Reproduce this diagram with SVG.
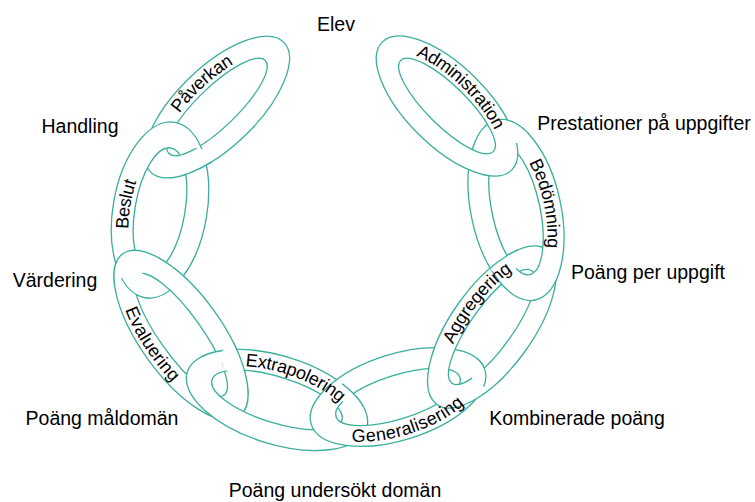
<svg xmlns="http://www.w3.org/2000/svg" width="755" height="502" viewBox="0 0 755 502">
<style>
.ring{fill:#fff;fill-rule:evenodd;stroke:#3aae9c;stroke-width:1.3}
.lbl{font-family:"Liberation Sans",Arial,sans-serif;font-size:18px;fill:#000;dominant-baseline:central;text-anchor:middle}
.out{font-family:"Liberation Sans",Arial,sans-serif;font-size:19.5px;fill:#000;text-anchor:middle}
</style>
<defs>
<path id="t1" d="M -80 0 A 80 30 0 0 1 80 0"/>
<path id="t2" d="M -76 0 A 76 36 0 0 1 76 0"/>
<path id="t3" d="M -87 0 A 87 31 0 0 0 87 0"/>
<path id="t4" d="M -81 0 A 81 33.5 0 0 1 81 0"/>
<path id="t5" d="M -78 0 A 78 32.5 0 0 0 78 0"/>
<path id="t6" d="M -82 0 A 82 31 0 0 1 82 0"/>
<path id="t7" d="M -79 0 A 79 34.5 0 0 1 79 0"/>
<path id="t8" d="M -78 0 A 78 30 0 0 1 78 0"/>
<clipPath id="c1"><circle cx="195" cy="166" r="18"/></clipPath>
<clipPath id="c2"><circle cx="135" cy="290" r="18"/></clipPath>
<clipPath id="c3"><circle cx="238" cy="358" r="17"/></clipPath>
<clipPath id="c4"><circle cx="357" cy="392" r="17"/></clipPath>
<clipPath id="c5"><circle cx="487" cy="370" r="17"/></clipPath>
<clipPath id="c6"><circle cx="503" cy="258" r="17"/></clipPath>
<clipPath id="c7"><circle cx="515" cy="126" r="17"/></clipPath>
</defs>
<g id="connectors">
<g id="link-paverkan" transform="translate(217 107) rotate(-44)">
<path id="r1" class="ring" d="M -93 0 A 93 40 0 1 0 93 0 A 93 40 0 1 0 -93 0 Z M -67 0 A 67 20 0 1 0 67 0 A 67 20 0 1 0 -67 0 Z"/>
</g>
<g id="link-beslut" transform="translate(160 210) rotate(-80.3)">
<path id="r2" class="ring" d="M -89 0 A 89 47 0 1 0 89 0 A 89 47 0 1 0 -89 0 Z M -63 0 A 63 25 0 1 0 63 0 A 63 25 0 1 0 -63 0 Z"/>
</g>
<g clip-path="url(#c1)"><use href="#r1" transform="translate(217 107) rotate(-44)"/></g>
<g id="link-evaluering" transform="translate(181 335) rotate(54.4)">
<path id="r3" class="ring" d="M -100 0 A 100 41 0 1 0 100 0 A 100 41 0 1 0 -100 0 Z M -74 0 A 74 21 0 1 0 74 0 A 74 21 0 1 0 -74 0 Z"/>
</g>
<g clip-path="url(#c2)"><use href="#r2" transform="translate(160 210) rotate(-80.3)"/></g>
<g id="link-extrapolering" transform="translate(277 400) rotate(17.3)">
<path id="r4" class="ring" d="M -94 0 A 94 44 0 1 0 94 0 A 94 44 0 1 0 -94 0 Z M -68 0 A 68 23 0 1 0 68 0 A 68 23 0 1 0 -68 0 Z"/>
</g>
<g clip-path="url(#c3)"><use href="#r3" transform="translate(181 335) rotate(54.4)"/></g>
<g id="link-generalisering" transform="translate(398 397) rotate(-17.5)">
<path id="r5" class="ring" d="M -91 0 A 91 43 0 1 0 91 0 A 91 43 0 1 0 -91 0 Z M -65 0 A 65 22 0 1 0 65 0 A 65 22 0 1 0 -65 0 Z"/>
</g>
<g clip-path="url(#c4)"><use href="#r4" transform="translate(277 400) rotate(17.3)"/></g>
<g id="link-aggregering" transform="translate(492 327) rotate(-54.6)">
<path id="r6" class="ring" d="M -95 0 A 95 41 0 1 0 95 0 A 95 41 0 1 0 -95 0 Z M -69 0 A 69 21 0 1 0 69 0 A 69 21 0 1 0 -69 0 Z"/>
</g>
<g clip-path="url(#c5)"><use href="#r5" transform="translate(398 397) rotate(-17.5)"/></g>
<g id="link-bedomning" transform="translate(516 210) rotate(78)">
<path id="r7" class="ring" d="M -92 0 A 92 45 0 1 0 92 0 A 92 45 0 1 0 -92 0 Z M -66 0 A 66 24 0 1 0 66 0 A 66 24 0 1 0 -66 0 Z"/>
</g>
<g clip-path="url(#c6)"><use href="#r6" transform="translate(492 327) rotate(-54.6)"/></g>
<g id="link-administration" transform="translate(447 106) rotate(44.6)">
<path id="r8" class="ring" d="M -91 0 A 91 40 0 1 0 91 0 A 91 40 0 1 0 -91 0 Z M -65 0 A 65 20 0 1 0 65 0 A 65 20 0 1 0 -65 0 Z"/>
</g>
<g clip-path="url(#c7)"><use href="#r7" transform="translate(516 210) rotate(78)"/></g>
</g>
<g id="link-labels">
<g id="label-paverkan" transform="translate(217 107) rotate(-44)"><text class="lbl"><textPath href="#t1" startOffset="53%">Påverkan</textPath></text></g>
<g id="label-beslut" transform="translate(160 210) rotate(-80.3)"><text class="lbl"><textPath href="#t2" startOffset="50%">Beslut</textPath></text></g>
<g id="label-evaluering" transform="translate(181 335) rotate(54.4)"><text class="lbl"><textPath href="#t3" startOffset="45%">Evaluering</textPath></text></g>
<g id="label-extrapolering" transform="translate(277 400) rotate(17.3)"><text class="lbl"><textPath href="#t4" startOffset="56%">Extrapolering</textPath></text></g>
<g id="label-generalisering" transform="translate(398 397) rotate(-17.5)"><text class="lbl"><textPath href="#t5" startOffset="51%">Generalisering</textPath></text></g>
<g id="label-aggregering" transform="translate(492 327) rotate(-54.6)"><text class="lbl"><textPath href="#t6" startOffset="56%">Aggregering</textPath></text></g>
<g id="label-bedomning" transform="translate(516 210) rotate(78)"><text class="lbl"><textPath href="#t7" startOffset="50%">Bedömning</textPath></text></g>
<g id="label-administration" transform="translate(447 106) rotate(44.6)"><text class="lbl"><textPath href="#t8" startOffset="48%">Administration</textPath></text></g>
</g>
<g id="labels">
<text id="elev" class="out" x="336" y="31">Elev</text>
<text id="handling" class="out" x="80" y="133">Handling</text>
<text id="prestationer" class="out" x="644" y="130">Prestationer på uppgifter</text>
<text id="poang-per-uppgift" class="out" x="648" y="279">Poäng per uppgift</text>
<text id="vardering" class="out" x="55" y="287">Värdering</text>
<text id="poang-maldoman" class="out" x="102" y="425">Poäng måldomän</text>
<text id="kombinerade" class="out" x="577" y="425">Kombinerade poäng</text>
<text id="poang-undersokt" class="out" x="335" y="497">Poäng undersökt domän</text>
</g>
</svg>
